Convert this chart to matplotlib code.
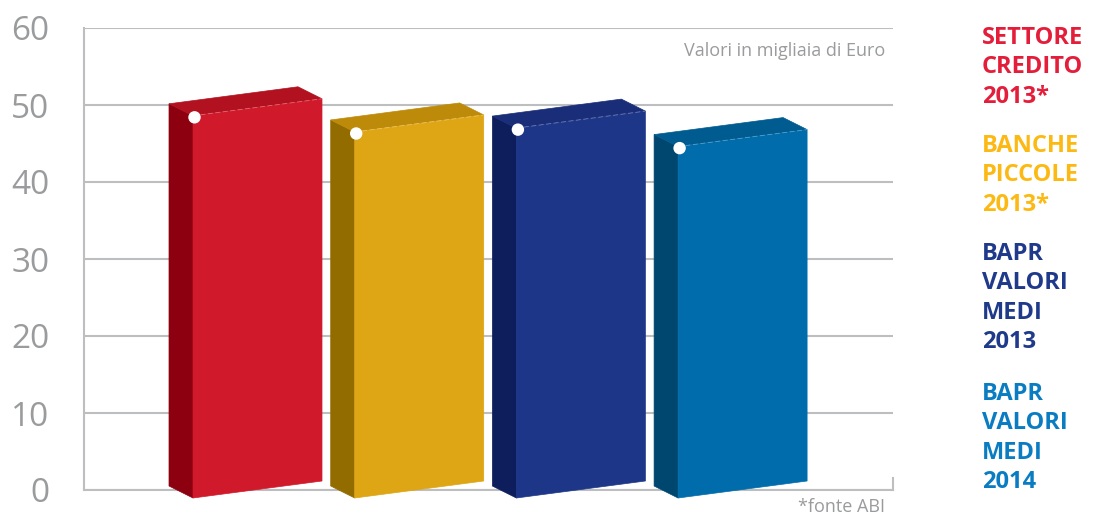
import matplotlib
matplotlib.use("Agg")
import matplotlib.pyplot as plt
from matplotlib.patches import Polygon

# ---- data ----
categories = ["SETTORE\nCREDITO\n2013*", "BANCHE\nPICCOLE\n2013*",
              "BAPR\nVALORI\nMEDI\n2013", "BAPR\nVALORI\nMEDI\n2014"]
values = [48.6, 46.5, 47.0, 44.6]
yticks = [0, 10, 20, 30, 40, 50, 60]
front_colors = ["#D0192B", "#DEA514", "#1D3687", "#006CAB"]
side_colors = ["#8C0010", "#936C00", "#0E1E5C", "#00476F"]
top_colors = ["#B2111F", "#BE8A0A", "#1A2D78", "#005B90"]
label_colors = ["#E41E3A", "#FDB913", "#1F3A8A", "#0A7DC2"]

W, H = 1094, 515
fig = plt.figure(figsize=(W / 100, H / 100), dpi=100)
ax_l, ax_r, ax_t, ax_b = 84, 893, 28, 490
ax = fig.add_axes([ax_l / W, (H - ax_b) / H, (ax_r - ax_l) / W, (ax_b - ax_t) / H])

xspan = ax_r - ax_l
ax.set_xlim(0, xspan)
ax.set_ylim(0, 60)
ppu = (ax_b - ax_t) / 60.0  # pixels per y unit

grid_c = "#BDBEC0"
ax.set_yticks(yticks)
ax.set_yticklabels([str(t) for t in yticks], fontsize=24, color="#9A9B9D",
                   family=["Open Sans", "DejaVu Sans"], fontweight="normal")
ax.tick_params(axis="y", length=0, pad=25)
ax.set_xticks([])
ax.yaxis.grid(True, color=grid_c, lw=1.5, zorder=0)
ax.set_axisbelow(True)
for s in ["top", "right"]:
    ax.spines[s].set_visible(False)
for s in ["left", "bottom"]:
    ax.spines[s].set_color(grid_c)
    ax.spines[s].set_linewidth(1.5)
ax.plot([1, 1], [0, 12 / (ax_b - ax_t)], transform=ax.transAxes, color=grid_c,
        lw=1.5, clip_on=False)

# 3D bar geometry (pixels converted to data units)
first_x = 109
step = 161.7
bw = 129
skew = 17 / ppu
base = -8 / ppu
ddx, ddy = -24, 12 / ppu

for i, v in enumerate(values):
    x0 = first_x + i * step
    front = [(x0, base), (x0 + bw, base + skew), (x0 + bw, v + skew), (x0, v)]
    side = [(x0 + ddx, base + ddy), (x0, base), (x0, v), (x0 + ddx, v + ddy)]
    top = [(x0 + ddx, v + ddy), (x0, v), (x0 + bw, v + skew), (x0 + bw + ddx, v + skew + ddy)]
    for pts, c in [(side, side_colors[i]), (top, top_colors[i]), (front, front_colors[i])]:
        ax.add_patch(Polygon(pts, closed=True, facecolor=c, edgecolor=c, lw=0.5,
                             clip_on=False, zorder=3))
    ax.plot([x0, x0 + bw], [v, v + skew], color="white", lw=0.6, alpha=0.35,
            ls=(0, (6, 3)), zorder=4, clip_on=False)
    ax.scatter([x0 + 1.5], [v - 0.2], s=80, color="white", zorder=5, clip_on=False,
               edgecolors="none")

# annotations
fig.text(885 / W, 1 - 56 / H, "Valori in migliaia di Euro", ha="right", va="baseline",
         fontsize=13, color="#9A9B9D", family=["Open Sans", "DejaVu Sans"])
fig.text(885 / W, 1 - 512 / H, "*fonte ABI", ha="right", va="baseline",
         fontsize=13, color="#9A9B9D", family=["Open Sans", "DejaVu Sans"])

# legend-like labels
group_tops = [27, 135, 243, 383]
pitch = 29.3
cap = 17
for lab, gt, c in zip(categories, group_tops, label_colors):
    for k, line in enumerate(lab.split("\n")):
        yb = gt + cap + k * pitch
        fig.text(982 / W, 1 - yb / H, line, ha="left", va="baseline", fontsize=17,
                 fontweight="bold", color=c, family=["Open Sans", "DejaVu Sans"])

fig.savefig("out.png", dpi=100)
